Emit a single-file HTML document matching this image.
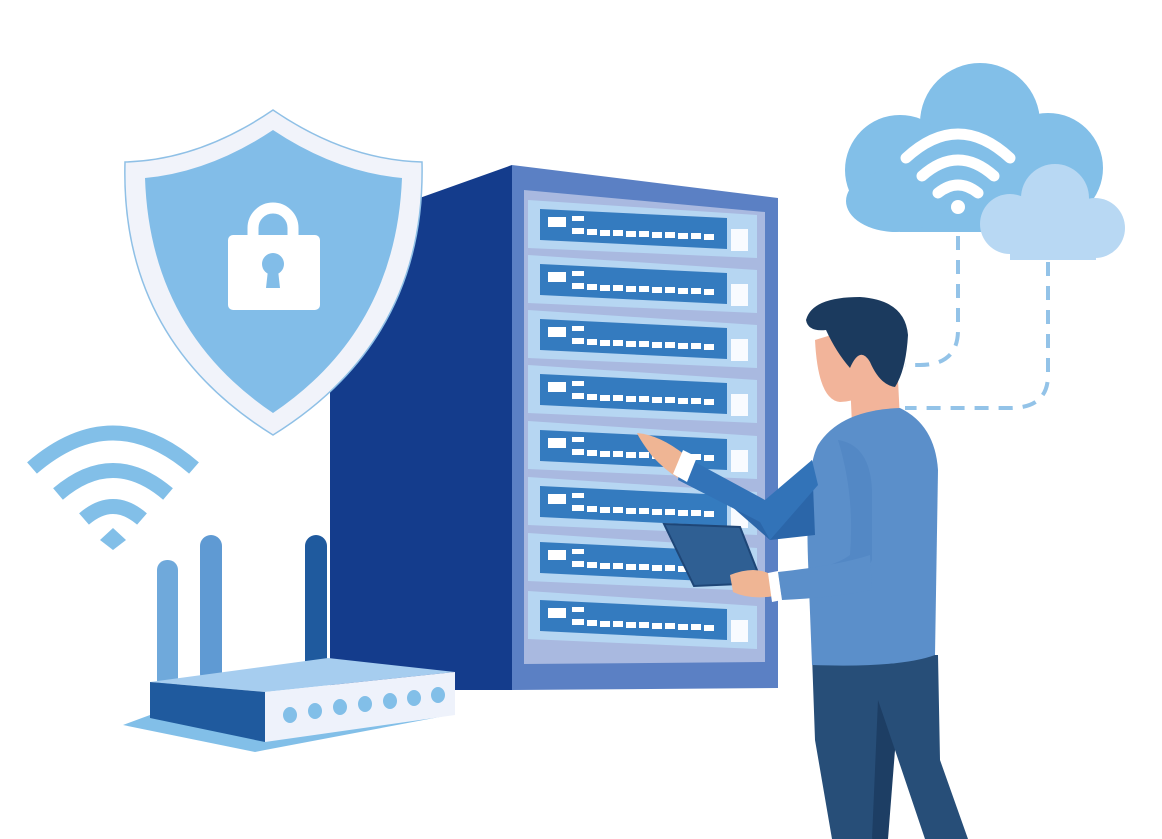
<!DOCTYPE html>
<html><head><style>html,body{margin:0;padding:0;background:#fff;width:1162px;height:839px;overflow:hidden}</style></head>
<body>
<svg width="1162" height="839" viewBox="0 0 1162 839" xmlns="http://www.w3.org/2000/svg">
<defs>
<g id="r0"><polygon points="528,200 757,215 757,258 528,248" fill="#b6d6f2"/><polygon points="540,209 727,218 727,249 540,240" fill="#347bbf"/><rect x="731" y="229" width="17" height="22" fill="#f8fbff"/><g fill="#fff"><rect x="548" y="217" width="18" height="10"/><rect x="572" y="216" width="12" height="5"/><rect x="572" y="228" width="12" height="6"/><rect x="587" y="229" width="10" height="6"/><rect x="600" y="230" width="10" height="6"/><rect x="613" y="230" width="10" height="6"/><rect x="626" y="231" width="10" height="6"/><rect x="639" y="231" width="10" height="6"/><rect x="652" y="232" width="10" height="6"/><rect x="665" y="232" width="10" height="6"/><rect x="678" y="233" width="10" height="6"/><rect x="691" y="233" width="10" height="6"/><rect x="704" y="234" width="10" height="6"/></g></g>
</defs>
<!-- Cloud -->
<g fill="#82bfe8">
<circle cx="980" cy="123" r="60"/><circle cx="900" cy="170" r="55"/><circle cx="1048" cy="168" r="55"/>
<rect x="900" y="150" width="150" height="82"/><rect x="846" y="170" width="100" height="62" rx="50"/>
</g>
<g fill="none" stroke="#fff" stroke-width="11" stroke-linecap="round">
<path d="M906 158 Q958 110 1010 158"/><path d="M922 176 Q958 144 994 176"/><path d="M938 193 Q958 177 978 193"/>
</g>
<circle cx="958" cy="207" r="7" fill="#fff"/>
<g fill="#b8d8f3">
<circle cx="1055" cy="198" r="34"/><circle cx="1010" cy="224" r="30"/><circle cx="1095" cy="228" r="30"/>
<rect x="1010" y="222" width="86" height="38"/>
</g>
<g fill="none" stroke="#93c3e8" stroke-width="4" stroke-dasharray="14 10">
<path d="M958 236 V330 Q958 365 920 365 H905"/>
<path d="M1048 262 V375 Q1048 408 1010 408 H905"/>
</g>
<!-- Server -->
<polygon points="330,230 512,165 512,690 330,690" fill="#143c8c"/>
<polygon points="512,165 778,198 778,688 512,690" fill="#5b80c4"/>
<polygon points="524,190 765,212 765,662 524,664" fill="#a9b9e0"/>
<use href="#r0"/>
<use href="#r0" y="55"/><use href="#r0" y="110"/><use href="#r0" y="165"/><use href="#r0" y="221"/><use href="#r0" y="277"/><use href="#r0" y="333"/><use href="#r0" y="391"/>
<!-- Shield -->
<path d="M273 110 Q200 160 125 162 Q120 340 273 435 Q426 340 422 162 Q346 160 273 110Z" fill="#f1f3fa" stroke="#8fc0e6" stroke-width="1.5"/>
<path d="M273 130 Q210 172 145 178 Q150 330 273 413 Q396 330 402 178 Q336 172 273 130Z" fill="#82bde8"/>
<path d="M253 236 V228 A20 20 0 0 1 293 228 V236" fill="none" stroke="#fff" stroke-width="11"/>
<rect x="228" y="235" width="92" height="75" rx="5" fill="#fff"/>
<circle cx="273" cy="264" r="11" fill="#82bde8"/><polygon points="268,270 278,270 280,288 266,288" fill="#82bde8"/>
<!-- Wifi left -->
<g fill="none" stroke="#82bfe8" stroke-width="15" stroke-linecap="butt">
<path d="M32 468 Q113 398 194 468"/><path d="M58 494 Q113 447 168 494"/><path d="M84 519 Q113 494 142 519"/>
</g>
<polygon points="100,540 113,528 126,540 113,550" fill="#82bfe8"/>
<!-- Router -->
<rect x="157" y="560" width="21" height="130" rx="10" fill="#6fa9db"/>
<rect x="200" y="535" width="22" height="150" rx="11" fill="#5f9ad3"/>
<rect x="305" y="535" width="22" height="140" rx="11" fill="#1f5a9e"/>
<polygon points="123,725 150,715 450,715 265,750 255,752" fill="#82bfe8"/>
<polygon points="150,682 328,658 455,672 265,692" fill="#a6cdef"/>
<polygon points="150,682 265,692 265,742 150,718" fill="#1f5a9e"/>
<polygon points="265,692 455,672 455,715 265,742" fill="#eef2fb"/>
<g fill="#82bfe8"><ellipse cx="290" cy="715" rx="7" ry="8"/><ellipse cx="315" cy="711" rx="7" ry="8"/><ellipse cx="340" cy="707" rx="7" ry="8"/><ellipse cx="365" cy="704" rx="7" ry="8"/><ellipse cx="390" cy="701" rx="7" ry="8"/><ellipse cx="414" cy="698" rx="7" ry="8"/><ellipse cx="438" cy="695" rx="7" ry="8"/></g>
<!-- Person -->
<polygon points="812,655 938,655 940,760 968,839 925,839 895,750 872,839 832,839 815,740" fill="#274e78"/>
<polygon points="878,700 895,750 888,839 872,839" fill="#1d3e64"/>
<polygon points="850,380 898,380 900,420 852,425" fill="#f2b49a"/>
<path d="M815 340 Q818 400 840 402 Q880 400 898 360 L880 320 Z" fill="#f2b49a"/>
<path d="M806 320 Q812 297 860 297 Q905 300 908 335 Q906 370 895 387 Q880 385 870 362 Q860 345 850 368 Q836 352 826 330 Q808 332 806 320Z" fill="#1b3a5e"/>
<path d="M818 445 Q840 410 900 408 Q935 425 938 470 L935 655 Q900 668 812 665 L808 560 Q805 470 818 445Z" fill="#5b8fca"/>
<path d="M838 440 Q870 445 872 490 L872 560 Q860 590 780 595 L775 575 Q830 570 850 555 Q855 495 838 440Z" fill="#4f84c1" opacity="0.6"/>
<polygon points="682,455 690,470 770,540 815,535 812,460 760,520" fill="#2b66a9"/>
<polygon points="682,455 765,500 812,460 818,485 770,540 760,522 678,480" fill="#3273b8"/>
<path d="M637 433 Q660 435 685 455 L678 478 Q665 470 652 456 Q640 440 637 433Z" fill="#efb594"/>
<polygon points="683,450 697,457 687,482 673,474" fill="#fff"/>
<polygon points="664,524 740,527 762,583 694,586" fill="#2f5f93" stroke="#1e4677" stroke-width="2"/>
<path d="M730 575 Q755 565 772 575 L775 596 Q750 600 733 592 Z" fill="#efb594"/>
<polygon points="768,573 778,571 782,600 772,602" fill="#fff"/>
<path d="M778 572 Q840 565 870 555 L872 590 Q830 598 782 600Z" fill="#5b8fca"/>
</svg>
</body></html>
